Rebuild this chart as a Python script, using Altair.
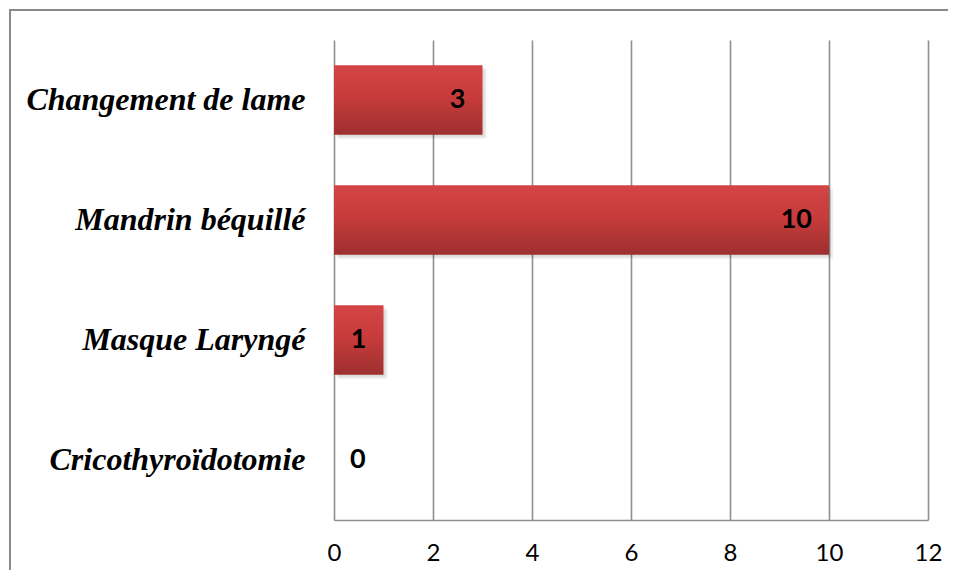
import altair as alt
import pandas as pd

categories = ["Changement de lame", "Mandrin béquillé", "Masque Laryngé", "Cricothyroïdotomie"]
values = [3, 10, 1, 0]
x_ticks = [0, 2, 4, 6, 8, 10, 12]

df = pd.DataFrame({"cat": categories, "val": values})

W, H = 594, 480

x_enc = alt.X("val:Q", scale=alt.Scale(domain=[0, 12], nice=False, zero=True),
              axis=alt.Axis(values=x_ticks, title=None, grid=True, gridColor="#8f8f8f",
                            gridWidth=1.6, domainColor="#8f8f8f", domainWidth=1.6,
                            ticks=False, labelPadding=21, labelFont="Lato", labelFlush=False,
                            labelFontSize=24, labelColor="#000000", labelBaseline="top"))
y_enc = alt.Y("cat:N", sort=categories,
              scale=alt.Scale(paddingInner=0.42, paddingOuter=0.21),
              axis=alt.Axis(title=None, ticks=False, domain=False, labelPadding=29,
                            labelFont="Liberation Serif", labelFontSize=32,
                            labelFontStyle="italic", labelFontWeight="bold",
                            labelColor="#000000", labelLimit=400))

base = alt.Chart(df)

shadow1 = base.mark_bar(color="#000000", opacity=0.07, xOffset=4, yOffset=4).encode(x=x_enc, y=y_enc)
shadow2 = base.mark_bar(color="#000000", opacity=0.07, xOffset=2, yOffset=2).encode(x=x_enc, y=y_enc)

bars = base.mark_bar(
    color=alt.Gradient(
        gradient="linear",
        stops=[alt.GradientStop(color="#d44444", offset=0),
               alt.GradientStop(color="#c83c3c", offset=0.45),
               alt.GradientStop(color="#9e2f2f", offset=1)],
        x1=0, x2=0, y1=0, y2=1,
    )
).encode(x=x_enc, y=y_enc)

lab_in = base.transform_filter("datum.val > 0").mark_text(
    align="right", baseline="middle", dx=-17, font="Lato", fontWeight="bold",
    fontSize=27, color="#000000"
).encode(x="val:Q", y=alt.Y("cat:N", sort=categories), text="val:Q")

lab_zero = base.transform_filter("datum.val == 0").mark_text(
    align="left", baseline="middle", dx=16, font="Lato", fontWeight="bold",
    fontSize=27, color="#000000"
).encode(x="val:Q", y=alt.Y("cat:N", sort=categories), text="val:Q")

border_left = alt.Chart(df).mark_rule(color="#8a8a8a", strokeWidth=2).encode(
    x=alt.value(-324), y=alt.value(-30), y2=alt.value(540))
border_top = alt.Chart(df).mark_rule(color="#8a8a8a", strokeWidth=2).encode(
    x=alt.value(-325), x2=alt.value(640), y=alt.value(-30))

chart = alt.layer(shadow1, shadow2, bars, lab_in, lab_zero, border_left, border_top).properties(
    width=W, height=H,
    padding={"left": 326, "top": 32, "right": 20, "bottom": 50},
    autosize=alt.AutoSizeParams(type="none"),
    background="#ffffff",
).configure_view(stroke=None)

chart.save("out.html", embed_options={"renderer": "svg", "actions": False})
